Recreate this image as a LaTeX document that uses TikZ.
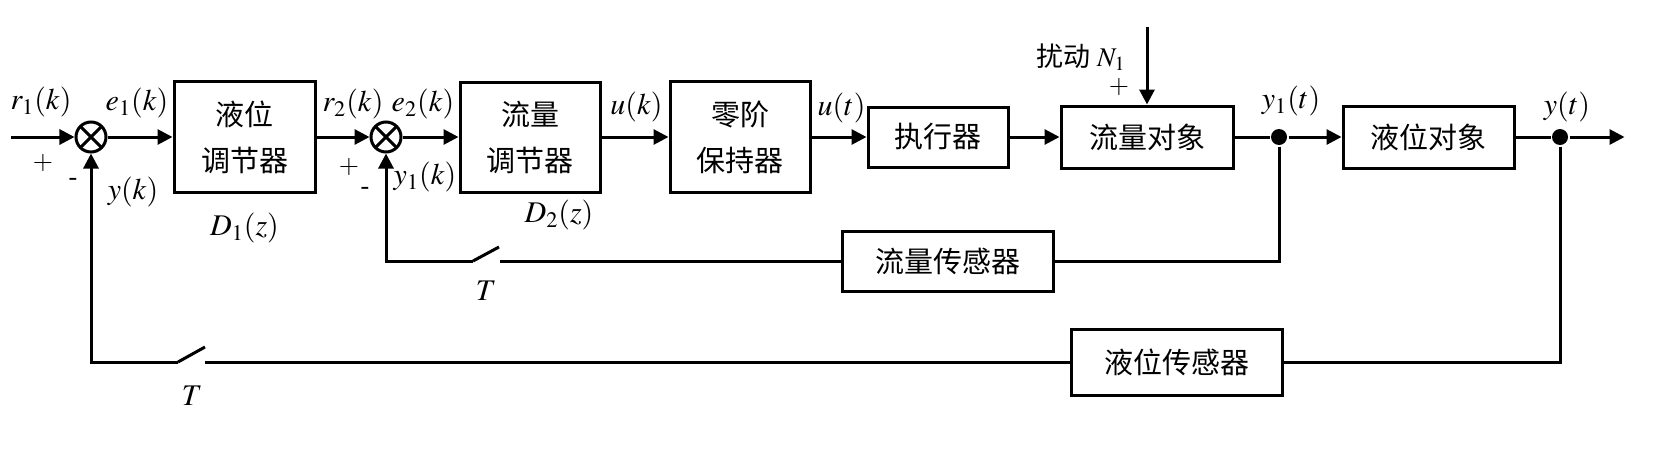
\documentclass[tikz,border=0pt]{standalone}
\usepackage{mathptmx}
\usepackage{fontspec}
\setmainfont{Liberation Serif}
\newfontfamily\cjk{Noto Sans CJK SC}
\usetikzlibrary{positioning,arrows.meta,calc}
\tikzstyle{block}=[draw, align=center, inner sep=0pt, font=\fontsize{14.5pt}{23pt}\selectfont\cjk]
\tikzstyle{sum}=[draw, circle, inner sep=0pt, minimum size=15pt,
  path picture={\draw (path picture bounding box.south west) -- (path picture bounding box.north east)
                      (path picture bounding box.north west) -- (path picture bounding box.south east);}]
\tikzstyle{dot}=[circle, fill, inner sep=0pt, minimum size=8pt]
\tikzstyle{lbl}=[inner sep=0pt, font=\fontsize{15pt}{18pt}\selectfont]
\tikzstyle{sgn}=[inner sep=0pt, font=\fontsize{13pt}{15pt}\selectfont]

\begin{document}
\begin{tikzpicture}[line width=1.5pt, >={Triangle[length=7.5pt,width=7.5pt]}]
\useasboundingbox (-45.5pt,-167.5pt) rectangle (781pt,68.5pt);
% forward path
\node[sum] (sum1) at (0,0) {};
\coordinate (in) at (-40pt,0);
\node[block, minimum width=70.5pt, minimum height=55.5pt, right=32.5pt of sum1] (d1) {液位\\调节器};
\node[sum, right=26.5pt of d1] (sum2) {};
\node[block, minimum width=70pt, minimum height=55pt, right=28pt of sum2] (d2) {流量\\调节器};
\node[block, minimum width=70pt, minimum height=55.5pt, right=33.5pt of d2] (zoh) {零阶\\保持器};
\node[block, minimum width=70pt, minimum height=30pt, right=27.5pt of zoh] (act) {执行器};
\node[block, minimum width=86pt, minimum height=31pt, right=25pt of act] (fo) {流量对象};
\node[dot, right=17.5pt of fo] (j1) {};
\node[block, minimum width=85.5pt, minimum height=31pt, right=26.5pt of j1] (lo) {液位对象};
\node[dot, right=17.5pt of lo] (j2) {};
\coordinate[right=27.5pt of j2] (out);
% sensors
\node[block, minimum width=105.5pt, minimum height=30pt, below=30.5pt of act, xshift=4.75pt] (fs) {流量传感器};
\node[block, minimum width=105.5pt, minimum height=33pt, below=79pt of fo, xshift=14.75pt] (ls) {液位传感器};
% samplers
\coordinate (sw1) at ($(sum2 |- fs.west)+(43.5pt,0)$);
\coordinate (sw2) at ($(sum1 |- ls.west)+(43.5pt,0)$);
\coordinate (dist) at ($(fo.north)+(0,39pt)$);

\path[->] (in)   edge (sum1)
          (sum1) edge (d1)
          (d1)   edge (sum2)
          (sum2) edge (d2)
          (d2)   edge (zoh)
          (zoh)  edge (act)
          (act)  edge (fo)
          (fo)   edge[-] (j1)
          (j1)   edge (lo)
          (lo)   edge[-] (j2)
          (j2)   edge (out)
          (dist) edge (fo.north);

% inner loop
\draw (j1) |- (fs.east);
\draw (fs.west) -- ($(sw1)+(13.5pt,0)$);
\draw (sw1) -- ++(13pt,7pt);
\draw[->] (sw1) -| (sum2);
% outer loop
\draw (j2) |- (ls.east);
\draw (ls.west) -- ($(sw2)+(13.5pt,0)$);
\draw (sw2) -- ++(13.5pt,7.5pt);
\draw[->] (sw2) -| (sum1);

% labels
\node[lbl] (r1k) at ($(sum1)+(-25pt,17.5pt)$) {$r_1(k)$};
\node[lbl] (e1k) at ($(sum1)+(23pt,17pt)$) {$e_1(k)$};
\node[sgn] (p1) at ($(sum1)+(-24pt,-13pt)$) {$+$};
\node[sgn] (m1) at ($(sum1)+(-9pt,-22.5pt)$) {-};
\node[lbl] (yk) at ($(sum1)+(21pt,-27.5pt)$) {$y(k)$};
\node[lbl, below=17pt of d1.south, anchor=center] (d1z) {$D_1(z)$};
\node[lbl] (r2k) at ($(sum2)+(-16.5pt,16.5pt)$) {$r_2(k)$};
\node[lbl] (e2k) at ($(sum2)+(18.5pt,16.5pt)$) {$e_2(k)$};
\node[sgn] (p2) at ($(sum2)+(-18.5pt,-15pt)$) {$+$};
\node[sgn] (m2) at ($(sum2)+(-10.5pt,-27pt)$) {-};
\node[lbl] (y1k) at ($(sum2)+(19.5pt,-20pt)$) {$y_1(k)$};
\node[lbl] (d2z) at ($(d2)+(14.5pt,-39pt)$) {$D_2(z)$};
\node[lbl] (uk) at ($(d2.east)+(17.5pt,15pt)$) {$u(k)$};
\node[lbl] (ut) at ($(zoh.east)+(15pt,14.5pt)$) {$u(t)$};
\node[lbl, font=\fontsize{13.5pt}{16pt}\selectfont] (n1) at ($(dist)+(-33pt,-15.5pt)$) {{\cjk 扰动} $N_1$};
\node[sgn] (p3) at ($(dist)+(-14pt,-30.5pt)$) {$+$};
\node[lbl] (y1t) at ($(j1)+(6pt,18pt)$) {$y_1(t)$};
\node[lbl] (yt) at ($(j2)+(3.5pt,15pt)$) {$y(t)$};
\node[lbl] (t1) at ($(sw1)+(6.5pt,-15pt)$) {$T$};
\node[lbl] (t2) at ($(sw2)+(7pt,-17pt)$) {$T$};
\end{tikzpicture}
\end{document}
